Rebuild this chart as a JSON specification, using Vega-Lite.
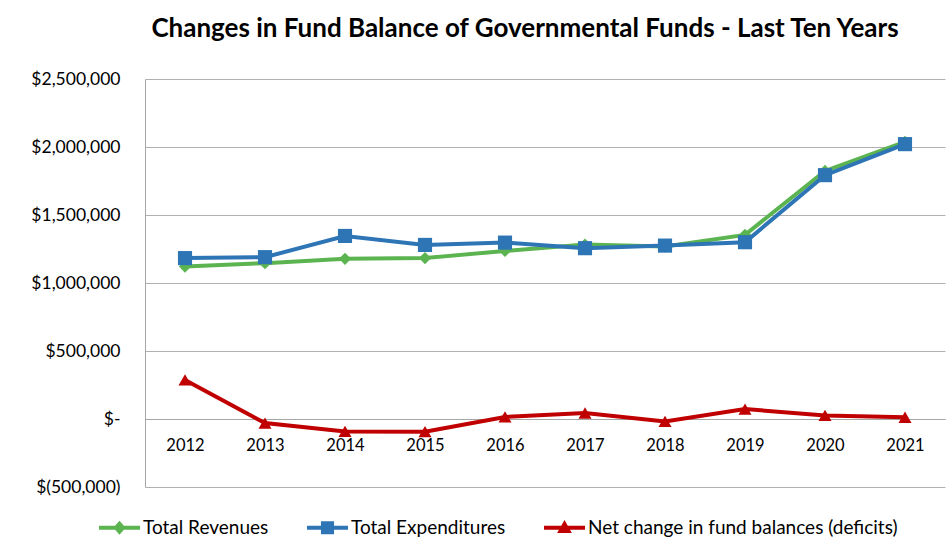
{
  "$schema": "https://vega.github.io/schema/vega-lite/v6.json",
  "width": 800,
  "height": 408,
  "autosize": "none",
  "padding": {"left": 145, "top": 79, "right": 6, "bottom": 68},
  "background": "white",
  "config": {
    "font": "Lato",
    "view": {"stroke": null},
    "axis": {"labelFont": "Lato", "labelColor": "#000000", "labelFontSize": 16.5}
  },
  "title": {
    "text": "Changes in Fund Balance of Governmental Funds - Last Ten Years",
    "font": "Lato",
    "fontSize": 26,
    "fontWeight": "bold",
    "color": "#000000",
    "anchor": "middle",
    "dx": -20,
    "baseline": "alphabetic",
    "offset": 7
  },
  "data": {
    "values": [
      {"year": "2012", "revenues": 1121000, "expenditures": 1183000, "net": 287000},
      {"year": "2013", "revenues": 1146000, "expenditures": 1190000, "net": -30000},
      {"year": "2014", "revenues": 1178000, "expenditures": 1346000, "net": -91000},
      {"year": "2015", "revenues": 1183000, "expenditures": 1280000, "net": -93000},
      {"year": "2016", "revenues": 1236000, "expenditures": 1297000, "net": 15000},
      {"year": "2017", "revenues": 1283000, "expenditures": 1256000, "net": 44000},
      {"year": "2018", "revenues": 1268000, "expenditures": 1275000, "net": -18000},
      {"year": "2019", "revenues": 1354000, "expenditures": 1300000, "net": 73000},
      {"year": "2020", "revenues": 1824000, "expenditures": 1793000, "net": 26000},
      {"year": "2021", "revenues": 2038000, "expenditures": 2021000, "net": 13000}
    ]
  },
  "encoding": {
    "x": {
      "field": "year",
      "type": "ordinal",
      "scale": {"type": "point", "padding": 0.5},
      "axis": {
        "title": null,
        "orient": "bottom",
        "offset": -68,
        "labelAngle": 0,
        "domain": true,
        "domainColor": "#A6A6A6",
        "domainWidth": 1,
        "ticks": false,
        "tickSize": 0,
        "labelPadding": 18,
        "grid": false
      }
    }
  },
  "layer": [
    {
      "mark": {"type": "line", "strokeWidth": 4, "point": {"shape": "diamond", "size": 150, "filled": true, "opacity": 1}},
      "encoding": {
        "y": {
          "field": "revenues",
          "type": "quantitative",
          "scale": {"domain": [-500000, 2500000], "nice": false, "zero": false},
          "axis": {
            "title": null,
            "values": [-500000, 0, 500000, 1000000, 1500000, 2000000, 2500000],
            "labelExpr": "datum.value == 0 ? '$-' : (datum.value < 0 ? '$(' + format(-datum.value, ',') + ')' : '$' + format(datum.value, ','))",
            "labelFontSize": 17.5,
            "domain": true,
            "domainColor": "#A6A6A6",
            "ticks": false,
            "tickSize": 0,
            "labelPadding": 25,
            "grid": true,
            "gridColor": "#B0B0B0",
            "gridWidth": 1
          }
        },
        "color": {
          "datum": "Total Revenues",
          "type": "nominal",
          "scale": {
            "domain": ["Total Revenues", "Total Expenditures", "Net change in fund balances (deficits)"],
            "range": ["#5BB450", "#2E75B6", "#C00000"]
          },
          "legend": {
            "title": null,
            "orient": "none",
            "direction": "horizontal",
            "legendX": -46,
            "legendY": 428,
            "labelFont": "Lato",
            "labelFontSize": 19,
            "labelLimit": 500,
            "labelColor": "#000000",
            "labelOffset": 3,
            "columnPadding": 38,
            "symbolSize": 1681,
            "encode": {
              "symbols": {
                "update": {
                  "shape": {"signal": "datum.value === 'Total Revenues' ? 'M-1,-0.1H1V0.1H-1Z M0,-0.34L0.3,0L0,0.34L-0.3,0Z' : (datum.value === 'Total Expenditures' ? 'M-1,-0.1H1V0.1H-1Z M-0.32,-0.32H0.32V0.32H-0.32Z' : 'M-1,-0.1H1V0.1H-1Z M0,-0.38L0.36,0.26H-0.36Z')"},
                  "fill": {"scale": "color", "field": "value"},
                  "stroke": {"value": "transparent"},
                  "strokeWidth": {"value": 0},
                  "opacity": {"value": 1}
                }
              }
            }
          }
        }
      }
    },
    {
      "mark": {"type": "line", "strokeWidth": 4, "point": {"shape": "square", "size": 200, "filled": true, "opacity": 1}},
      "encoding": {
        "y": {"field": "expenditures", "type": "quantitative"},
        "color": {"datum": "Total Expenditures", "type": "nominal"}
      }
    },
    {
      "mark": {"type": "line", "strokeWidth": 4, "point": {"shape": "triangle-up", "size": 170, "filled": true, "opacity": 1}},
      "encoding": {
        "y": {"field": "net", "type": "quantitative"},
        "color": {"datum": "Net change in fund balances (deficits)", "type": "nominal"}
      }
    }
  ]
}
